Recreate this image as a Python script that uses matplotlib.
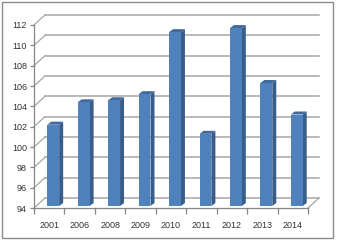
import matplotlib
matplotlib.use('Agg')
import matplotlib.pyplot as plt
from matplotlib.patches import Polygon, Rectangle
from matplotlib.lines import Line2D
from matplotlib.transforms import IdentityTransform

years = ['2001', '2006', '2008', '2009', '2010', '2011', '2012', '2013', '2014']
values = [102.0, 104.2, 104.4, 105.0, 111.1, 101.1, 111.5, 106.1, 103.0]
y_ticks = list(range(94, 113, 2))

W, H = 337, 240
DEPTH = (11, 10)      # back wall offset, px
BAR_OFF = (4, 2)      # bar plane offset, px
BAR_D = (4, 3)        # bar depth, px
bar_w = 0.39

plt.rcParams['font.family'] = ['Liberation Sans', 'DejaVu Sans']

fig = plt.figure(figsize=(W / 100, H / 100), dpi=100)
fig.patches.append(Rectangle((1.5 / W, 2.5 / H), 331.5 / W, 236 / H, transform=fig.transFigure,
                             fill=False, edgecolor='#8c8c8c', lw=1))

ax = fig.add_axes([34 / W, 32 / H, 274 / W, 183 / H])
ax.set_xlim(-0.5, 8.5)
ax.set_ylim(94, 112)
ax.patch.set_visible(False)
for s in ['top', 'right']:
    ax.spines[s].set_visible(False)
for s in ['left', 'bottom']:
    ax.spines[s].set_color('#868686')
    ax.spines[s].set_linewidth(0.9)

ax.set_yticks(y_ticks)
ax.set_yticklabels([str(t) for t in y_ticks], fontsize=6.5, color='#333333')
ax.set_xticks(range(len(years)))
ax.set_xticklabels(years, fontsize=6.5, color='#333333')
ax.tick_params(axis='x', which='major', length=0, pad=9)
ax.set_xticks([i - 0.5 for i in range(len(years) + 1)], minor=True)
ax.tick_params(axis='x', which='minor', length=4, color='#868686', width=0.9)
ax.tick_params(axis='y', length=3, color='#868686', width=0.9, pad=2)

ident = IdentityTransform()


def px(x, y):
    return ax.transData.transform((x, y))


# back wall gridlines and left diagonals
for t in y_ticks:
    fx0, fy = px(-0.5, t)
    fx1, _ = px(8.5, t)
    ax.add_line(Line2D([fx0 + DEPTH[0], fx1 + DEPTH[0]], [fy + DEPTH[1], fy + DEPTH[1]],
                       transform=ident, color='#a6a6a6', lw=1.1, clip_on=False, zorder=1))
    ax.add_line(Line2D([fx0, fx0 + DEPTH[0]], [fy, fy + DEPTH[1]],
                       transform=ident, color='#a6a6a6', lw=0.9, clip_on=False, zorder=1))
# right floor edge
rx, ry = px(8.5, 94)
ax.add_line(Line2D([rx, rx + DEPTH[0]], [ry, ry + DEPTH[1]], transform=ident,
                   color='#a6a6a6', lw=0.9, clip_on=False, zorder=1))

# 3D bars
for i, v in enumerate(values):
    x0, y0 = px(i - bar_w / 2, 94)
    x1, y1 = px(i + bar_w / 2, v)
    x0 += BAR_OFF[0]; x1 += BAR_OFF[0]
    y0 += BAR_OFF[1]; y1 += BAR_OFF[1]
    dx, dy = BAR_D
    side = Polygon([(x1, y0), (x1, y1), (x1 + dx, y1 + dy), (x1 + dx, y0 + dy)],
                   closed=True, transform=ident, facecolor='#385d8a', edgecolor='none',
                   clip_on=False, zorder=3)
    top = Polygon([(x0, y1), (x1, y1), (x1 + dx, y1 + dy), (x0 + dx, y1 + dy)],
                  closed=True, transform=ident, facecolor='#40699c', edgecolor='none',
                  clip_on=False, zorder=3)
    front = Rectangle((x0, y0), x1 - x0, y1 - y0, transform=ident, facecolor='#4f81bd',
                      edgecolor='none', clip_on=False, zorder=4)
    ax.add_patch(side)
    ax.add_patch(top)
    ax.add_patch(front)

fig.savefig('out.png', dpi=100)
